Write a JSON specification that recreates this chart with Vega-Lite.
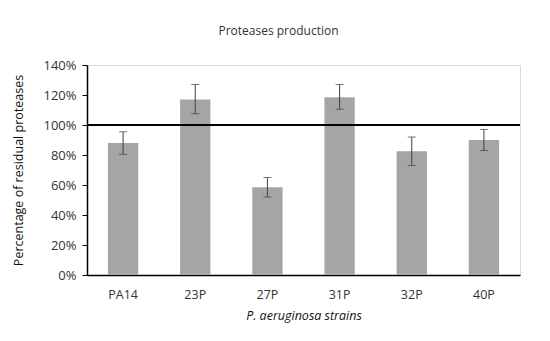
{
  "$schema": "https://vega.github.io/schema/vega-lite/v6.json",
  "width": 433,
  "height": 210,
  "autosize": {"type": "none"},
  "padding": {"left": 87, "top": 65, "right": 30, "bottom": 66},
  "background": "white",
  "title": {
    "text": "Proteases production",
    "fontSize": 12,
    "font": "Open Sans",
    "fontWeight": "normal",
    "color": "#333333",
    "anchor": "middle",
    "dx": -25,
    "offset": 21
  },
  "data": {
    "values": [
      {"strain": "PA14", "value": 0.88, "lower": 0.805, "upper": 0.955},
      {"strain": "23P", "value": 1.17, "lower": 1.075, "upper": 1.27},
      {"strain": "27P", "value": 0.585, "lower": 0.52, "upper": 0.65},
      {"strain": "31P", "value": 1.185, "lower": 1.105, "upper": 1.27},
      {"strain": "32P", "value": 0.825, "lower": 0.73, "upper": 0.92},
      {"strain": "40P", "value": 0.9, "lower": 0.83, "upper": 0.97}
    ]
  },
  "layer": [
    {
      "mark": {"type": "bar", "color": "#a5a5a5"},
      "encoding": {
        "x": {
          "field": "strain",
          "type": "nominal",
          "sort": null,
          "title": "P. aeruginosa strains",
          "scale": {"paddingInner": 0.58, "paddingOuter": 0.29}
        },
        "y": {
          "field": "value",
          "type": "quantitative",
          "title": "Percentage of residual  proteases",
          "scale": {"domain": [0, 1.4]}
        }
      }
    },
    {
      "mark": {"type": "errorbar", "color": "#404040", "ticks": {"size": 8, "color": "#404040"}},
      "encoding": {
        "x": {"field": "strain", "type": "nominal", "sort": null, "title": "P. aeruginosa strains"},
        "y": {"field": "lower", "type": "quantitative", "title": "Percentage of residual  proteases"},
        "y2": {"field": "upper"}
      }
    },
    {
      "mark": {"type": "rule", "color": "black", "strokeWidth": 2},
      "encoding": {"y": {"datum": 1.0}}
    }
  ],
  "config": {
    "font": "Open Sans",
    "view": {"stroke": "#d9d9d9"},
    "axis": {
      "domainColor": "black",
      "domainWidth": 1.5,
      "tickColor": "black",
      "labelFontSize": 12.5,
      "labelColor": "#333333",
      "titleFontSize": 12.5,
      "titleColor": "#111111",
      "labelFont": "Open Sans",
      "titleFont": "Open Sans",
      "titleFontWeight": "normal",
      "grid": false
    },
    "axisY": {
      "format": ".0%",
      "values": [0, 0.2, 0.4, 0.6, 0.8, 1.0, 1.2, 1.4],
      "labelOverlap": false,
      "labelFontSize": 13,
      "tickSize": 5,
      "labelPadding": 6,
      "titleX": -69,
      "titleY": 105,
      "titleAlign": "center",
      "titleBaseline": "middle"
    },
    "axisX": {
      "labelAngle": 0,
      "ticks": false,
      "labelPadding": 13,
      "titleY": 34,
      "titleBaseline": "top",
      "titleFontStyle": "italic"
    }
  }
}
